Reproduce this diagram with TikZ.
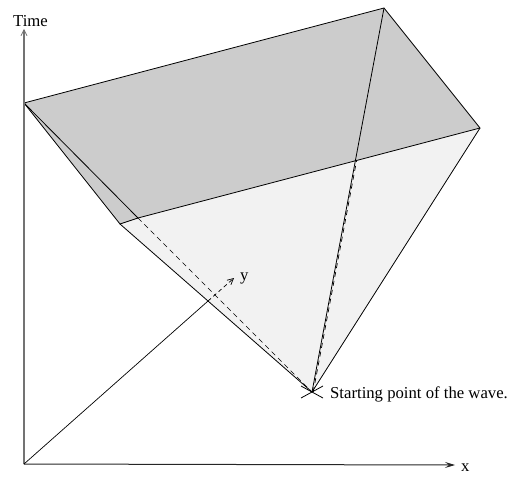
\documentclass[tikz,border=0pt]{standalone}
\usepackage{fontspec}
\setmainfont{Liberation Serif}
\usetikzlibrary{arrows.meta,calc}
\begin{document}
\begin{tikzpicture}[x=1pt,y=-1pt,
  edge/.style={line width=0.8pt,line join=round},
  hidden/.style={line width=0.7pt,dash pattern=on 5pt off 4pt},
  topface/.style={fill=black!20},
  frontface/.style={fill=black!5},
  lbl/.style={font=\fontsize{16.7}{20}\selectfont,inner sep=0pt,anchor=base west},
  opentip/.style={-{Straight Barb[length=6pt,width=6pt,line width=0.7pt]}},
  filltip/.style={-{Stealth[length=10pt,width=6pt,inset=4pt]}}]
\useasboundingbox (0,0) rectangle (513,476);
% points
\coordinate (O) at (24,464);
\coordinate (T) at (24,29);
\coordinate (X) at (455,465);
\coordinate (Y) at (234,278);
\coordinate (A) at (24,103);
\coordinate (B) at (384,8);
\coordinate (C) at (480,128);
\coordinate (D) at (138,218);
\coordinate (E) at (120,224);
\coordinate (S) at (312,392);
\coordinate (I) at (intersection of O--Y and E--S);
\coordinate (P) at (intersection of S--B and D--C);
% faces
\fill[frontface] (E) -- (D) -- (C) -- (S) -- cycle;
\fill[topface] (A) -- (B) -- (C) -- (D) -- cycle;
\fill[topface] (A) -- (D) -- (E) -- cycle;
% hidden lines
\draw[hidden] (D) -- (S);
\draw[hidden] ($(S)+(1.2,0)$) -- ($(P)+(1.2,0)$);
% edges
\draw[edge] (A) -- (B) -- (C) -- (D) -- cycle;
\draw[edge] (A) -- (E) -- (D);
\draw[edge] (E) -- (S) -- (C);
\draw[edge] (S) -- (B);
% axes
\draw[line width=1.3pt,black!55,opentip] (O) -- (T);
\draw[line width=1pt,black!85,filltip] (O) -- (X);
\draw[line width=0.7pt] (O) -- (I);
\draw[hidden,opentip,dash pattern=on 4pt off 3pt] (I) -- (Y);
% marker
\draw[line width=0.8pt] (301,386) -- (323,398);
\draw[line width=0.8pt] (301,398) -- (323,386);
% labels
\node[lbl] (tlabel) at (13,27) {Time};
\node[lbl] (xlabel) at (461,471) {x};
\node[lbl] (ylabel) at (240,280) {y};
\node[lbl] (slabel) at (330,398) {Starting point of the wave.};
\end{tikzpicture}
\end{document}
